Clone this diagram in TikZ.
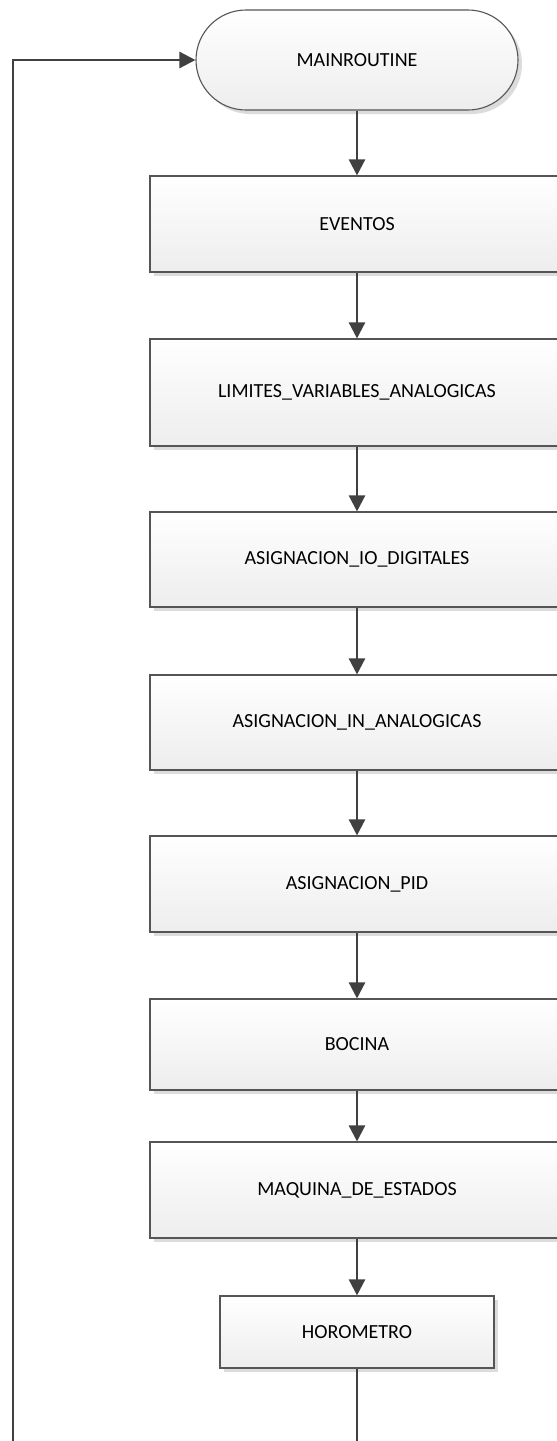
\documentclass[tikz,border=0pt]{standalone}
\usepackage{fontspec}
\setmainfont{Carlito}
\usetikzlibrary{arrows.meta,shadows}
\definecolor{linec}{HTML}{404040}
\definecolor{boxborder}{HTML}{555555}
\definecolor{boxbottom}{HTML}{EDEDED}
\definecolor{shadowc}{HTML}{DCDCDC}
\begin{document}
\begin{tikzpicture}[x=1pt,y=1pt,
  shapebase/.style={draw=boxborder, line width=1.1pt, top color=white, bottom color=boxbottom,
    inner sep=0pt, text=black, font=\fontsize{20}{24}\selectfont,
    drop shadow={shadow xshift=4pt, shadow yshift=-4pt, fill=shadowc, opacity=1}},
  procbox/.style={shapebase, rectangle, minimum width=414pt},
  smallbox/.style={shapebase, rectangle, minimum width=274pt, minimum height=72pt},
  termbox/.style={shapebase, rectangle, rounded corners=50pt, minimum width=322pt, minimum height=100pt},
  conn/.style={draw=linec, line width=2.4pt, -{Triangle[length=16pt,width=16pt]}},
  plainline/.style={draw=linec, line width=2.4pt}]
\useasboundingbox (0,0) rectangle (557,-1441);
\clip (0,0) rectangle (557,-1441);
\fill[white] (0,0) rectangle (557,-1441);

\node[termbox] (mr) at (357,-60) {MAINROUTINE};
\node[procbox, minimum height=96pt] (ev) at (357,-224) {EVENTOS};
\node[procbox, minimum height=107pt] (lim) at (357,-392.5) {LIMITES\_VARIABLES\_ANALOGICAS};
\node[procbox, minimum height=95pt] (io) at (357,-559.5) {ASIGNACION\_IO\_DIGITALES};
\node[procbox, minimum height=95pt] (ain) at (357,-722.5) {ASIGNACION\_IN\_ANALOGICAS};
\node[procbox, minimum height=96pt] (pid) at (357,-884) {ASIGNACION\_PID};
\node[procbox, minimum height=91pt] (boc) at (357,-1044.5) {BOCINA};
\node[procbox, minimum height=96pt] (maq) at (357,-1190) {MAQUINA\_DE\_ESTADOS};
\node[smallbox] (horo) at (357,-1332) {HOROMETRO};

\coordinate (endA) at (357,-1460);
\coordinate (endB) at (13,-1460);

\draw[conn] (mr) -- (ev);
\draw[conn] (ev) -- (lim);
\draw[conn] (lim) -- (io);
\draw[conn] (io) -- (ain);
\draw[conn] (ain) -- (pid);
\draw[conn] (pid) -- (boc);
\draw[conn] (boc) -- (maq);
\draw[conn] (maq) -- (horo);
\draw[plainline] (horo) -- (endA);
\draw[conn] (endB) |- (mr.west);
\end{tikzpicture}
\end{document}
